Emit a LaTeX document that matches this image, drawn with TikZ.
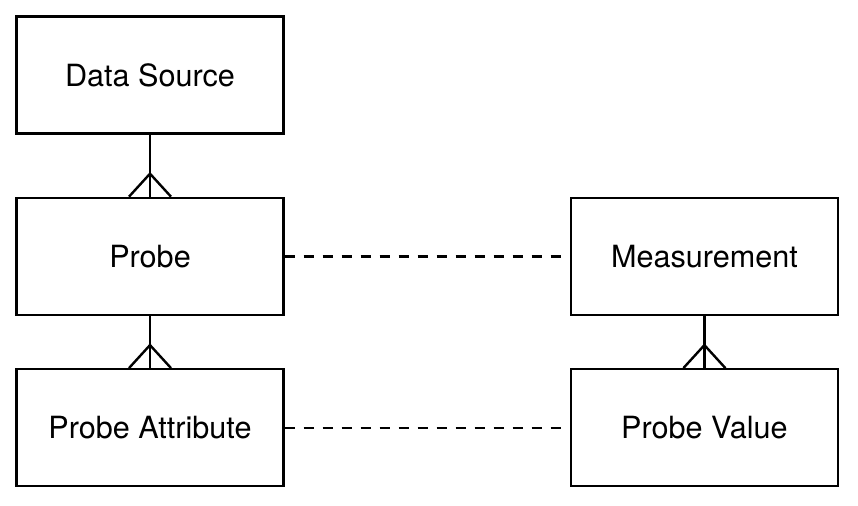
\documentclass[tikz,border=0pt]{standalone}
\usepackage{fontspec}
\setmainfont{TeX Gyre Heros}
\usetikzlibrary{positioning}

\tikzset{
  entity/.style={draw, line width=1.2pt, minimum width=133.5pt, minimum height=58.5pt, font=\fontsize{15.3}{18}\selectfont},
  link/.style={line width=1.2pt},
  dashlink/.style={line width=1.2pt, dash pattern=on 5pt off 4.5pt}
}
% crow's foot at the "many" end
\newcommand{\manyend}[1]{
  \draw[link] ($(#1.north)+(0,11.5pt)$) -- ($(#1.north)+(-10.5pt,0)$);
  \draw[link] ($(#1.north)+(0,11.5pt)$) -- ($(#1.north)+(10.5pt,0)$);
}
\usetikzlibrary{calc}

\begin{document}
\begin{tikzpicture}
  \useasboundingbox (0,0) rectangle (429pt,-253pt);
  \node[entity] (source) at (75pt,-37.5pt) {Data Source};
  \node[entity, below=31pt of source] (probe) {Probe};
  \node[entity, below=26pt of probe] (attr) {Probe Attribute};
  \node[entity, right=142.5pt of probe] (meas) {Measurement};
  \node[entity, right=142.5pt of attr] (value) {Probe Value};

  \draw[link] (source) -- (probe);
  \manyend{probe}
  \draw[link] (probe) -- (attr);
  \manyend{attr}
  \draw[link] (meas) -- (value);
  \manyend{value}

  \draw[dashlink] (probe.east) -- (meas.west);
  \draw[dashlink] (attr.east) -- (value.west);
\end{tikzpicture}
\end{document}
